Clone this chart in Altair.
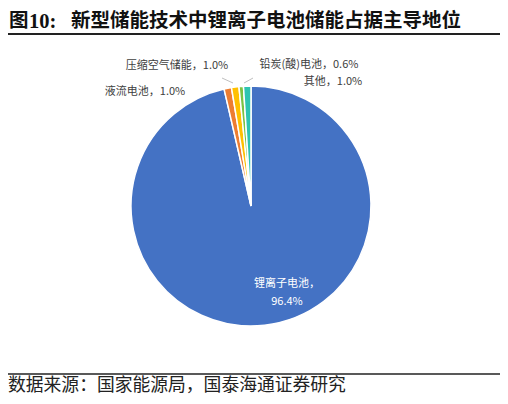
import altair as alt
import pandas as pd

# ---- data ----
categories = ["锂离子电池", "液流电池", "压缩空气储能", "铅炭(酸)电池", "其他"]
values = [96.4, 1.0, 1.0, 0.6, 1.0]
colors = ["#4472C4", "#ED7D31", "#FFC000", "#7CC242", "#2EC4B0"]

title_prefix = "图"
title_num = "10:"
title_main = "新型储能技术中锂离子电池储能占据主导地位"
source_text = "数据来源：国家能源局，国泰海通证券研究"

df = pd.DataFrame({"cat": categories, "value": values, "ord": list(range(len(categories)))})
one = pd.DataFrame({"a": [0]})

CJK = "Noto Sans CJK SC"
MIX = "Liberation Serif, Noto Sans CJK SC"
W, H = 492, 388
CX, CY, R = 243, 198, 120

pie = alt.Chart(df).mark_arc(radius=R, stroke="white", strokeWidth=1.5).encode(
    theta=alt.Theta("value:Q", stack=True),
    color=alt.Color("cat:N", scale=alt.Scale(domain=categories, range=colors), legend=None),
    order=alt.Order("ord:Q"),
    x=alt.value(CX),
    y=alt.value(CY),
)


def label(cat, x, y, color="#404040", sep="，"):
    return (
        alt.Chart(df)
        .transform_filter(alt.datum.cat == cat)
        .transform_calculate(lab=alt.datum.cat + sep + alt.expr.format(alt.datum.value, ".1f") + "%")
        .mark_text(font=CJK, fontSize=11, color=color, align="center", baseline="middle",
                   lineBreak="\n", lineHeight=18)
        .encode(text="lab:N", x=alt.value(x), y=alt.value(y))
    )


labels = [
    label("压缩空气储能", 169, 58),
    label("液流电池", 137, 84),
    label("铅炭(酸)电池", 301, 57),
    label("其他", 325, 74),
    label("锂离子电池", 279, 276, color="white", sep="，\n"),
]

leaders = [
    alt.Chart(one).mark_rule(color="#BFBFBF", strokeWidth=1).encode(
        x=alt.value(214), y=alt.value(70), x2=alt.value(225), y2=alt.value(75)),
    alt.Chart(one).mark_rule(color="#BFBFBF", strokeWidth=1).encode(
        x=alt.value(236), y=alt.value(75), x2=alt.value(245), y2=alt.value(70)),
]

t1 = alt.Chart(pd.DataFrame({"t": [title_prefix]})).mark_text(
    font=MIX, fontSize=19.5, fontWeight="bold", align="left", baseline="middle", color="#111"
).encode(text="t:N", x=alt.value(1), y=alt.value(13))
t2 = alt.Chart(pd.DataFrame({"t": [title_num]})).mark_text(
    font=MIX, fontSize=20.5, fontWeight="bold", align="left", baseline="middle", color="#111"
).encode(text="t:N", x=alt.value(21), y=alt.value(14))
t3 = alt.Chart(pd.DataFrame({"t": [title_main]})).mark_text(
    font=MIX, fontSize=19.5, fontWeight="bold", align="left", baseline="middle", color="#111"
).encode(text="t:N", x=alt.value(63), y=alt.value(13))

top_rule = alt.Chart(one).mark_rule(color="#222", strokeWidth=2).encode(
    x=alt.value(0), x2=alt.value(W), y=alt.value(26))
bot_rule = alt.Chart(one).mark_rule(color="#222", strokeWidth=1.5).encode(
    x=alt.value(0), x2=alt.value(W), y=alt.value(366))

src = alt.Chart(pd.DataFrame({"t": [source_text]})).mark_text(
    font=MIX, fontSize=17.8, align="left", baseline="middle", color="#222"
).encode(text="t:N", x=alt.value(0), y=alt.value(378))

chart = alt.layer(pie, *leaders, *labels, t1, t2, t3, top_rule, bot_rule, src).properties(
    width=W, height=H, autosize=alt.AutoSizeParams(type="none"), padding=0, background="white"
).configure_view(stroke=None)

chart.save("out.html", embed_options={"renderer": "svg", "actions": False})
